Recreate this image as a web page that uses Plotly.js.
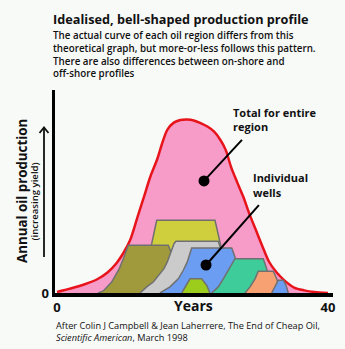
<!DOCTYPE html>
<html>
<head>
<meta charset="utf-8">
<script src="https://cdn.plot.ly/plotly-3.0.1.min.js"></script>
<style>
  html, body { margin: 0; padding: 0; background: #f8faf8; }
  #chart { width: 345px; height: 349px; }
</style>
</head>
<body>
<div id="chart"></div>
<script>
// Total production for the entire region (bell-shaped profile), years vs relative yield
const bellX = [0, 2, 4, 6, 7.5, 8.8, 9.8, 10.8, 11.8, 12.8, 13.8, 14.8, 15.6, 16.3, 17.2, 18.2, 19.2, 20.2, 21.2, 22.2, 23.2, 24.1, 24.9, 25.7, 26.6, 27.5, 28.4, 29.3, 30.3, 31.3, 32.4, 33.6, 35, 36.5, 38, 40];
const bellY = [0.5, 2.2, 4.2, 6.9, 10.2, 14.8, 19.7, 26.1, 36.5, 47, 57.5, 66, 74.5, 80.5, 83.8, 85.2, 85.5, 85, 83.7, 82, 79.5, 75.5, 70.5, 62, 54.5, 47.4, 39, 31.5, 23.2, 15.4, 10.2, 6.1, 2.7, 1.3, 0.5, 0];

// Individual wells (outline points)
const wellNames = ["Well A", "Well B", "Well C", "Well D", "Well E", "Well F", "Well G", "Well H"];
const wellAX = [6.05, 6.83, 8.07, 9.2, 9.79, 10.29, 10.52, 16.43, 16.93, 17.4, 17.86, 18.45];
const wellAY = [0, 1, 5.4, 12, 16.9, 21, 23.5, 23.5, 19.4, 15.3, 8.9, 0];
const wellBX = [12.25, 12.99, 13.98, 14.72, 23.32, 24.06, 24.65, 25.24];
const wellBY = [0, 13.8, 24.3, 35.8, 35.8, 25.1, 13.8, 0];
const wellCX = [12.25, 13.24, 14.21, 14.95, 15.79, 16.28, 16.68, 17.02, 17.27, 17.56, 23.81, 24.16, 24.65, 25.24];
const wellCY = [0, 3, 5.4, 8.7, 12, 15.3, 18.6, 21.8, 24.3, 25.5, 25.5, 21.8, 13.8, 0];
const wellDX = [15.2, 16.68, 17.9, 18.64, 19.23, 19.63, 19.88, 25.79, 26.27, 26.72, 27.0];
const wellDY = [0, 3, 7, 11.2, 15.3, 19.4, 22.2, 22.2, 17.7, 11.3, 0];
const wellEX = [18.41, 19.14, 19.63, 21.36, 22.1, 22.58];
const wellEY = [0, 4.6, 7, 7, 3.8, 0];
const wellFX = [22.83, 23.81, 24.55, 25.28, 25.79, 26.27, 30.45, 30.95, 31.29, 31.59];
const wellFY = [0, 3, 7, 11.2, 14.4, 16.9, 16.9, 12, 6.4, 0];
const wellGX = [27.75, 28.49, 29.23, 29.57, 29.71, 31.93, 32.43, 32.77, 32.92];
const wellGY = [0, 3, 7, 9.5, 10.7, 10.7, 7, 3, 0];
const wellHX = [31.69, 32.18, 32.66, 33.4, 33.8, 34.14];
const wellHY = [0, 3, 6.3, 6.3, 3.9, 0];

const xTickVals = [0, 40];
const xTickText = ["0", "40"];
const yTickVals = [0];
const yTickText = ["0"];

// drawing order back to front
const wellXs = [wellBX, wellAX, wellCX, wellDX, wellEX, wellFX, wellGX, wellHX];
const wellYs = [wellBY, wellAY, wellCY, wellDY, wellEY, wellFY, wellGY, wellHY];
const wellOrderNames = [wellNames[1], wellNames[0], wellNames[2], wellNames[3], wellNames[4], wellNames[5], wellNames[6], wellNames[7]];
const wellColors = ["#cfcf3e", "#a09a3c", "#cbcbcb", "#6b9df2", "#9ccc1c", "#3dcc9a", "#f7a072", "#6b9df2"];

const traces = [{
  x: bellX, y: bellY, type: "scatter", mode: "lines",
  line: { color: "#e8141b", width: 2.5, shape: "spline", smoothing: 0.9 },
  fill: "tozeroy", fillcolor: "#f79bc9", hoverinfo: "skip", name: "Total"
}];
wellXs.forEach((wx, i) => {
  traces.push({
    x: wx, y: wellYs[i], type: "scatter", mode: "lines",
    line: { color: "#707070", width: 1.5 },
    fill: "tozeroy", fillcolor: wellColors[i], hoverinfo: "skip", name: wellOrderNames[i]
  });
});

const FONT = "'Open Sans', 'Noto Sans', sans-serif";
function px2x(p) { return (p - 55) / 278; }
function px2y(p) { return (293 - p) / 203; }
function ann(text, px, py, size, weight, opts) {
  return Object.assign({
    text: text, xref: "paper", yref: "paper", x: px2x(px), y: px2y(py),
    xanchor: "left", yanchor: "middle", showarrow: false,
    font: { family: FONT, size: size, color: "#111", weight: weight }
  }, opts || {});
}

const annotations = [
  ann("Idealised, bell-shaped production profile", 51, 18.5, 12.7, 700),
  ann("The actual curve of each oil region differs from this", 51, 35, 9.8, 600),
  ann("theoretical graph, but more-or-less follows this pattern.", 51, 48, 9.8, 600),
  ann("There are also differences between on-shore and", 51, 61, 9.8, 600),
  ann("off-shore profiles", 51, 73.5, 9.8, 600),
  ann("Annual oil production", 22, 191, 13.3, 700, { xanchor: "center", textangle: -90 }),
  ann("(increasing yield)", 33.5, 202, 9.6, 600, { xanchor: "center", textangle: -90 }),
  ann("Years", 193, 305, 14, 700, { xanchor: "center" }),
  ann("Total for entire", 231, 112, 11, 700),
  ann("region", 231, 126, 11, 700),
  ann("Individual", 251, 177, 11, 700),
  ann("wells", 251, 192, 11, 700),
  ann("After Colin J Campbell &amp; Jean Laherrere, The End of Cheap Oil,", 54, 325, 9.2, 400),
  ann("<i>Scientific American</i>, March 1998", 54, 337, 9.2, 400)
];

const shapes = [
  // y-axis arrow
  { type: "line", xref: "paper", yref: "paper", x0: px2x(44), x1: px2x(44), y0: px2y(257), y1: px2y(127.5), line: { color: "#111", width: 1.8 } },
  { type: "path", xref: "paper", yref: "paper",
    path: "M" + px2x(39.5) + "," + px2y(133) + " L" + px2x(44) + "," + px2y(127.5) + " L" + px2x(48.5) + "," + px2y(133),
    line: { color: "#111", width: 1.8 } },
  // callout pointers
  { type: "line", xref: "x", yref: "y", x0: 21.7, y0: 55.2, x1: 27.3, y1: 75.4, line: { color: "#000", width: 2 } },
  { type: "line", xref: "x", yref: "y", x0: 22.0, y0: 13.8, x1: 29.8, y1: 43.3, line: { color: "#000", width: 2 } },
  { type: "circle", xref: "x", yref: "y", xsizemode: "pixel", ysizemode: "pixel", xanchor: 21.7, yanchor: 55.2,
    x0: -5.5, x1: 5.5, y0: -5.5, y1: 5.5, fillcolor: "#000", line: { width: 0 } },
  { type: "circle", xref: "x", yref: "y", xsizemode: "pixel", ysizemode: "pixel", xanchor: 22.0, yanchor: 13.8,
    x0: -5.5, x1: 5.5, y0: -5.5, y1: 5.5, fillcolor: "#000", line: { width: 0 } }
];

const layout = {
  width: 345, height: 349,
  margin: { l: 55, r: 12, t: 90, b: 56, pad: 0 },
  paper_bgcolor: "#f8faf8", plot_bgcolor: "#f8faf8",
  showlegend: false,
  xaxis: {
    range: [-0.295, 40.74], showgrid: false, zeroline: false,
    showline: true, linecolor: "#000", linewidth: 3.5,
    tickvals: xTickVals, ticktext: xTickText, ticks: "",
    tickfont: { family: FONT, size: 13, color: "#111", weight: 700 }
  },
  yaxis: {
    range: [0, 100], showgrid: false, zeroline: false,
    showline: true, linecolor: "#000", linewidth: 3.5,
    tickvals: yTickVals, ticktext: yTickText, ticks: "",
    tickfont: { family: FONT, size: 13, color: "#111", weight: 700 }
  },
  annotations: annotations,
  shapes: shapes
};

Plotly.newPlot("chart", traces, layout, { displayModeBar: false, staticPlot: true });
</script>
</body>
</html>
